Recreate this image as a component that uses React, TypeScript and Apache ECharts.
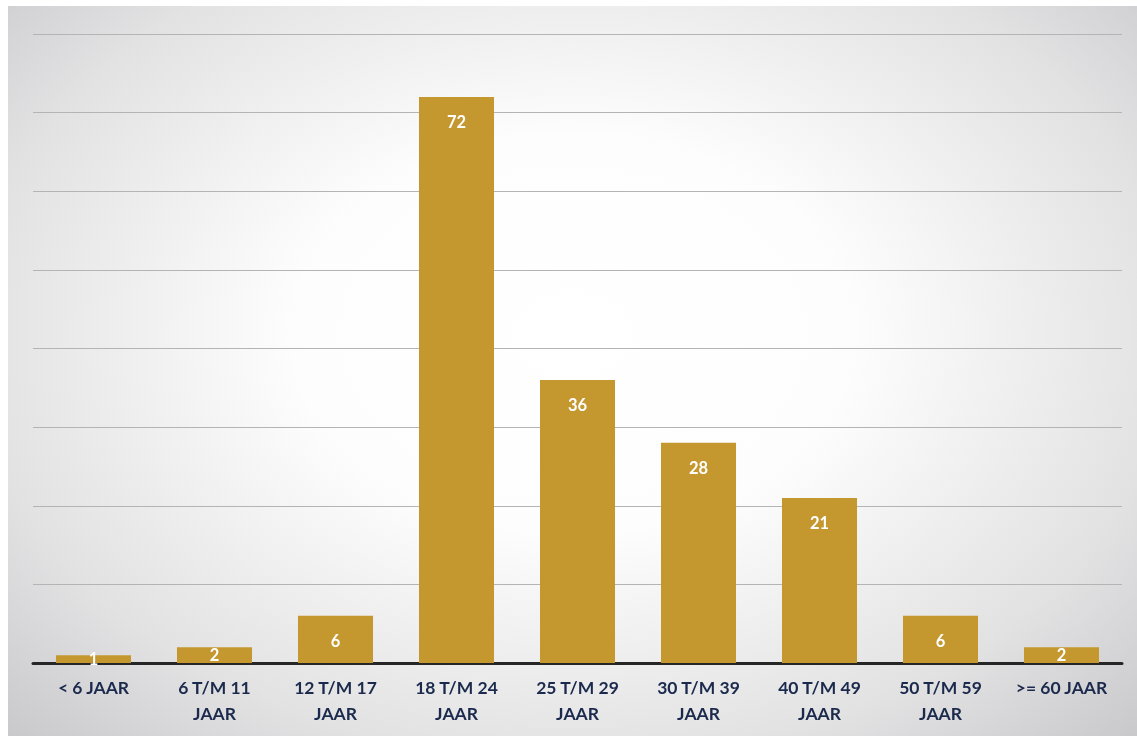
import React, { useEffect, useRef } from "react";
import * as echarts from "echarts";

const categories = [
  "< 6 JAAR",
  "6 T/M 11\nJAAR",
  "12 T/M 17\nJAAR",
  "18 T/M 24\nJAAR",
  "25 T/M 29\nJAAR",
  "30 T/M 39\nJAAR",
  "40 T/M 49\nJAAR",
  "50 T/M 59\nJAAR",
  ">= 60 JAAR",
];
const values = [1, 2, 6, 72, 36, 28, 21, 6, 2];
const yMin = 0;
const yMax = 80;
const yInterval = 10;

export default function App() {
  const ref = useRef<HTMLDivElement>(null);
  useEffect(() => {
    if (!ref.current) return;
    const chart = echarts.init(ref.current, null, { renderer: "svg" });
    chart.setOption({
      animation: false,
      grid: { left: 25, right: 15, top: 28, bottom: 73 },
      xAxis: {
        type: "category",
        data: categories,
        axisLine: { show: true, lineStyle: { color: "#262626", width: 3 } },
        axisTick: { show: false },
        axisLabel: {
          interval: 0,
          color: "#1b2a4c",
          fontFamily: "Lato",
          fontWeight: "bold",
          fontSize: 17.5,
          lineHeight: 26,
          margin: 11,
        },
      },
      yAxis: {
        type: "value",
        min: yMin,
        max: yMax,
        interval: yInterval,
        axisLabel: { show: false },
        axisLine: { show: false },
        axisTick: { show: false },
        splitLine: { lineStyle: { color: "#b4b4b4", width: 1 } },
      },
      series: [
        {
          type: "bar",
          barWidth: "62%",
          itemStyle: { color: "#c4982f" },
          data: values.map((v) => ({
            value: v,
            label: v <= 2 ? { position: "inside" } : undefined,
          })),
          label: {
            show: true,
            position: "insideTop",
            distance: 17,
            color: "#ffffff",
            fontFamily: "Lato",
            fontWeight: "bold",
            fontSize: 16.5,
          },
        },
      ],
    });
    return () => chart.dispose();
  }, []);
  return (
    <div
      ref={ref}
      style={{
        position: "fixed",
        left: 8,
        top: 6,
        width: 1129,
        height: 730,
        background:
          "radial-gradient(ellipse at 50% 45%, #ffffff 0%, #fdfdfd 35%, #e2e2e3 75%, #c9c9cc 100%)",
      }}
    />
  );
}
